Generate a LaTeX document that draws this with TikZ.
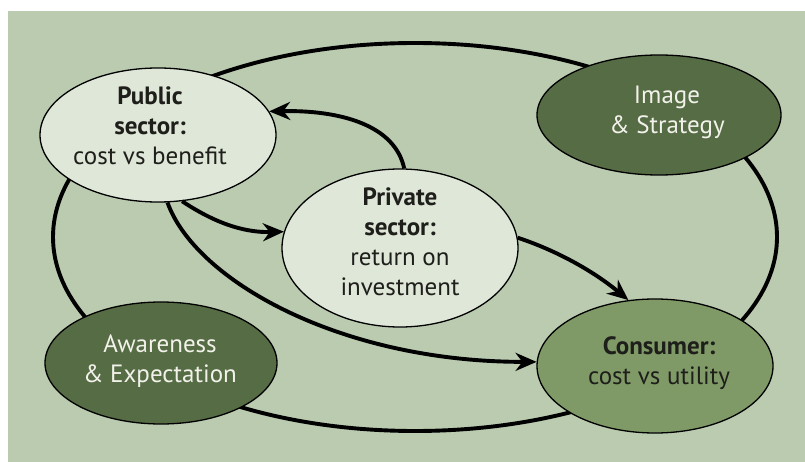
\documentclass[tikz,border=0pt]{standalone}
\usepackage{fontspec}
\setmainfont{PT Sans}
\usetikzlibrary{arrows.meta,shapes.geometric}

\definecolor{bggreen}{HTML}{BACBB0}
\definecolor{palefill}{HTML}{DFE7D8}
\definecolor{darkfill}{HTML}{566C45}
\definecolor{midfill}{HTML}{7F9A67}
\definecolor{inktext}{HTML}{1E1E1A}
\definecolor{lighttext}{HTML}{F2F2EA}

\tikzset{
  blob/.style={ellipse, draw=black, line width=1.3pt, inner sep=0pt},
  paleblob/.style={blob, fill=palefill},
  darkblob/.style={blob, fill=darkfill},
  midblob/.style={blob, fill=midfill},
  caption/.style={align=center, inner sep=0pt, font=\fontsize{25}{30}\selectfont},
  ring/.style={draw=black, line width=3.9pt},
  flow/.style={draw=black, line width=3.9pt, -{Stealth[length=21pt,width=18pt]}}
}

\begin{document}
\begin{tikzpicture}[x=1pt,y=-1pt]
  \useasboundingbox (0,0) rectangle (805,462);
  \fill[bggreen] (8,11) rectangle (805,462);

  % outer cycle linking the four corner ideas
  \draw[ring] (415,237) ellipse [x radius=362, y radius=194];

  % ellipses
  \node[paleblob, minimum width=236pt, minimum height=134pt] (pub)  at (158,135) {};
  \node[darkblob, minimum width=244pt, minimum height=120pt] (img)  at (659,115) {};
  \node[paleblob, minimum width=236pt, minimum height=158pt] (priv) at (400,248) {};
  \node[darkblob, minimum width=232pt, minimum height=122pt] (aware) at (161,363) {};
  \node[midblob,  minimum width=236pt, minimum height=134pt] (cons) at (655,366) {};

  % labels
  \node[caption, text=inktext] (pubtxt) at (150,126)
    {\textbf{Public}\\\textbf{sector:}\\cost vs benefit};
  \node[caption, text=lighttext] (imgtxt) at (667,112)
    {Image\\\& Strategy};
  \node[caption, text=inktext] (privtxt) at (400,242)
    {\textbf{Private}\\\textbf{sector:}\\return on\\investment};
  \node[caption, text=lighttext] (awaretxt) at (160,361)
    {Awareness\\\& Expectation};
  \node[caption, text=inktext] (constxt) at (659,363)
    {\textbf{Consumer:}\\cost vs utility};

  % flows between the sectors and the consumer
  \draw[flow] (priv.87) .. controls (395,125) and (340,110) .. (pub.12);
  \draw[flow] (pub.-70) .. controls (203,215) and (235,233) .. (priv.172);
  \draw[flow] (pub.-82) .. controls (195,280) and (340,362) .. (cons.178);
  \draw[flow] (priv.5) .. controls (555,250) and (592,270) .. (cons.112);
\end{tikzpicture}
\end{document}
